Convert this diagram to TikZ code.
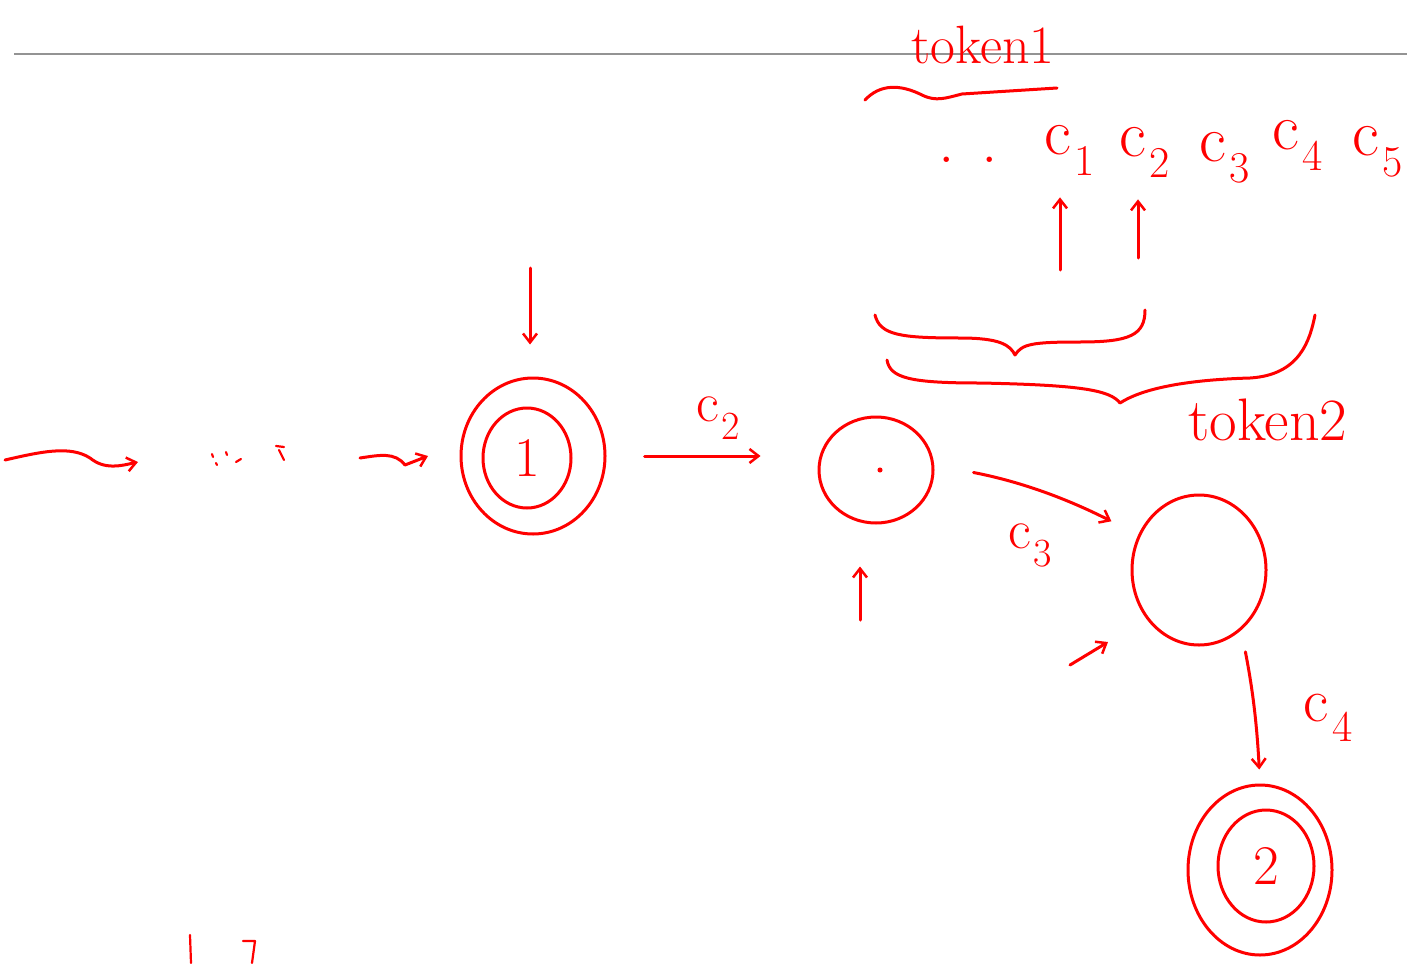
\documentclass[tikz,border=0pt]{standalone}
\usetikzlibrary{shapes.geometric,arrows.meta}
\newcommand{\csub}[2]{c\kern0.05em\raisebox{-0.32em}{\fontsize{#1}{#1}\selectfont #2}}
\begin{document}
\begin{tikzpicture}[x=1pt,y=-1pt,
  ink/.style={draw=red,line width=3pt,line cap=round,line join=round},
  thin ink/.style={draw=red,line width=2.2pt,line cap=round,line join=round},
  arr/.style={ink,-{Straight Barb[length=9pt,width=14pt,line width=2.5pt]}},
  statebox/.style={ellipse,ink,inner sep=0pt},
  lab/.style={text=red,inner sep=0pt},
  clab/.style={text=red,inner sep=0pt,font=\fontsize{66}{70}\selectfont}
]
\useasboundingbox (0,0) rectangle (1407,963);
% gray rule
\coordinate (ruleL) at (14,54);
\coordinate (ruleR) at (1407,54);
\draw[gray!85,line width=2pt] (ruleL) -- (ruleR);

% token1 and its stroke
\node[lab,font=\fontsize{54}{58}\selectfont] (tok1) at (983,45) {token1};
\draw[ink] (865,100) .. controls (880,84) and (900,84) .. (922,95)
  .. controls (936,102) and (946,98) .. (962,94) -- (1057,88);

% characters
\node[clab] (dots) at (968,160) {. .};
\node[clab] (c1) at (1070,150) {\csub{44}{1}};
\node[clab] (c2) at (1145,152) {\csub{44}{2}};
\node[clab] (c3) at (1225,158) {\csub{44}{3}};
\node[clab] (c4) at (1298,145) {\csub{44}{4}};
\node[clab] (c5) at (1378,152) {\csub{44}{5}};
\coordinate (pc1) at (1060,270);
\coordinate (pc2) at (1138,258);
\draw[arr] (pc1) -- ([yshift=-22pt]pc1 |- c1.south);
\draw[arr] (pc2) -- ([yshift=-22pt]pc2 |- c2.south);

% braces
\draw[ink] (875,315) .. controls (880,335) and (900,338) .. (960,338)
  .. controls (1000,338) and (1010,345) .. (1015,355)
  .. controls (1022,344) and (1032,342) .. (1080,342)
  .. controls (1130,342) and (1145,335) .. (1145,310);
\draw[ink] (887,360) .. controls (890,378) and (910,383) .. (980,383)
  .. controls (1080,385) and (1110,390) .. (1120,403)
  .. controls (1140,390) and (1180,380) .. (1250,378)
  .. controls (1300,375) and (1310,340) .. (1315,315);
\node[lab,font=\fontsize{60}{64}\selectfont] (tok2) at (1268,420) {token2};

% left approach strokes
\coordinate (l1a) at (5,460);
\coordinate (l1b) at (138,462);
\draw[arr] (l1a) .. controls (40,452) and (70,445) .. (90,458)
  .. controls (105,470) and (120,466) .. (l1b);
\draw[thin ink] (212,454) -- (213,457) (216,463) -- (217,465)
  (226,452) -- (227,455) (236,462) -- (241,459) (276,446) -- (284,447) (279,450) -- (284,460);
\coordinate (l2a) at (360,458);
\coordinate (l2b) at (428,456);
\draw[arr] (l2a) .. controls (380,455) and (395,452) .. (405,465) -- (l2b);

% states
\node[statebox,minimum width=144pt,minimum height=156pt] (s1) at (533,456) {};
\node[statebox,minimum width=88pt,minimum height=100pt,text=red,
  font=\fontsize{56}{60}\selectfont] (s1in) at (527,458) {1};
\node[statebox,minimum width=114pt,minimum height=106pt] (q) at (876,470) {};
\node[circle,fill=red,inner sep=1.8pt] (qdot) at (880,470) {};
\node[statebox,minimum width=134pt,minimum height=150pt] (r) at (1199,570) {};
\node[statebox,minimum width=144pt,minimum height=170pt] (f) at (1260,870) {};
\node[statebox,minimum width=96pt,minimum height=112pt,text=red,
  font=\fontsize{56}{60}\selectfont] (fin) at (1266,866) {2};

% start arrow
\coordinate (st) at (530,268);
\draw[arr,shorten >=32pt] (st) -- (st |- s1.north);

% transitions
\draw[arr,shorten <=38pt,shorten >=57pt] (s1.east) -- (q.west |- s1.east);
\node[clab,font=\fontsize{56}{60}\selectfont] (lc2) at (718,418) {\csub{40}{2}};
\draw[arr,shorten <=40pt,shorten >=30pt] (q.5) to[bend left=8] (r.150);
\node[clab,font=\fontsize{56}{60}\selectfont] (lc3) at (1030,545) {\csub{40}{3}};
\draw[arr,shorten <=22pt,shorten >=14pt] (r.-55) to[bend left=4] (f.north);
\node[clab,font=\fontsize{62}{66}\selectfont] (lc4) at (1328,718) {\csub{44}{4}};

% pointers
\coordinate (p1) at (860,620);
\draw[arr,shorten >=42pt] (p1) -- (p1 |- q.south);
\coordinate (p2a) at (1070,665);
\coordinate (p2b) at (1108,642);
\draw[arr] (p2a) -- (p2b);

% bottom-left fragments
\draw[thin ink] (190,935) -- (191,963);
\draw[thin ink] (243,941) -- (255,941) -- (252,963);
\end{tikzpicture}
\end{document}
